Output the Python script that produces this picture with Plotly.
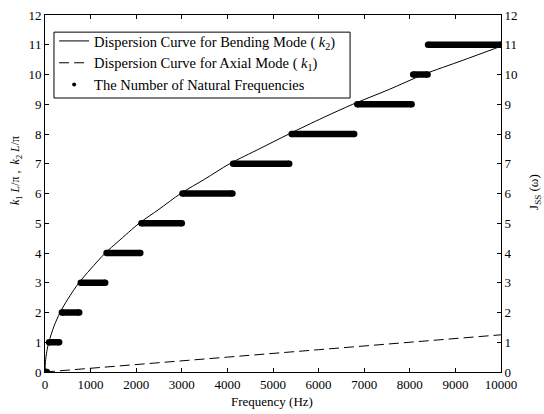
import plotly.graph_objects as go

# Bending mode dispersion curve (k2 L/pi)
bend_f = [0, 10, 40, 83, 200, 330, 500, 744, 1000, 1322, 1600, 2066, 2500, 2975,
          3500, 4050, 4700, 5350, 6100, 6750, 7550, 8300, 9150, 10000]
bend_k = [0, 0.35, 0.69, 1.0, 1.55, 2.0, 2.45, 3.0, 3.46, 4.0, 4.38, 5.0, 5.47, 6.0,
          6.48, 7.0, 7.5, 8.0, 8.55, 9.0, 9.5, 10.0, 10.47, 10.95]

# Axial mode dispersion curve (k1 L/pi)
axial_f = [0, 2000, 4000, 6000, 8000, 10000]
axial_k = [0, 0.26, 0.5, 0.75, 1.0, 1.25]

# Number of natural frequencies: level, start freq, end freq
count_level = [0, 1, 2, 3, 4, 5, 6, 7, 8, 9, 10, 11]
count_start = [0, 90, 370, 785, 1350, 2115, 3015, 4125, 5410, 6850, 8075, 8400]
count_end = [40, 310, 750, 1320, 2090, 3000, 4110, 5355, 6780, 8040, 8390, 10000]

x_ticks = [0, 1000, 2000, 3000, 4000, 5000, 6000, 7000, 8000, 9000, 10000]
x_labels = [str(v) for v in x_ticks]
y_ticks = list(range(0, 13))

FONT = "Liberation Serif"

fig = go.Figure()

fig.add_trace(go.Scatter(
    x=bend_f, y=bend_k, mode="lines", line=dict(color="black", width=1, shape="spline", smoothing=0.8),
    name="Dispersion Curve for Bending Mode ( <i>k</i><sub>2</sub>)"))
fig.add_trace(go.Scatter(
    x=axial_f, y=axial_k, mode="lines", line=dict(color="black", width=1, dash="10px,5px"),
    name="Dispersion Curve for Axial Mode ( <i>k</i><sub>1</sub>)"))

seg_x, seg_y = [], []
for lv, s, e in zip(count_level, count_start, count_end):
    seg_x += [s, e, None]
    seg_y += [lv, lv, None]
fig.add_trace(go.Scatter(
    x=seg_x, y=seg_y, mode="lines+markers", showlegend=False,
    line=dict(color="black", width=6.5), marker=dict(color="black", size=6.5),
    yaxis="y2"))
fig.add_trace(go.Scatter(
    x=[None], y=[None], mode="markers", marker=dict(color="black", size=4),
    name="The Number of Natural Frequencies", yaxis="y2"))

axis_common = dict(showline=True, linecolor="black", linewidth=1, ticks="inside",
                   ticklen=4, tickcolor="black", showgrid=False, zeroline=False,
                   automargin=False,
                   tickfont=dict(family=FONT, size=13, color="black"))

fig.update_layout(
    width=544, height=414,
    margin=dict(l=45, r=43, t=15, b=42),
    paper_bgcolor="white", plot_bgcolor="white",
    font=dict(family=FONT, size=13, color="black"),
    xaxis=dict(range=[0, 10000], tickvals=x_ticks, ticktext=x_labels, mirror="ticks",
               **axis_common),
    yaxis=dict(range=[0, 12], tickvals=y_ticks, mirror=True, **axis_common),
    yaxis2=dict(range=[0, 12], tickvals=y_ticks, overlaying="y", side="right",
                **axis_common),
    legend=dict(x=0.02, y=0.972, xanchor="left", yanchor="top",
                borderwidth=0, bgcolor="rgba(0,0,0,0)",
                itemwidth=30,
                font=dict(family=FONT, size=14.5, color="black")),
    showlegend=True,
    shapes=[
        dict(type="rect", xref="paper", yref="paper", x0=0.0197, x1=0.669,
             y0=0.7675, y1=0.952, line=dict(color="black", width=1),
             fillcolor="white", layer="below"),
    ],
    annotations=[
        dict(text="Frequency (Hz)", xref="paper", yref="paper", x=0.498, y=-0.084,
             xanchor="center", yanchor="middle", showarrow=False,
             font=dict(family=FONT, size=13)),
        dict(text="<i>k</i><sub>1</sub> <i>L</i>/π ,  <i>k</i><sub>2</sub> <i>L</i>/π",
             xref="paper", yref="paper", x=-0.062, y=0.565, textangle=-90,
             xanchor="center", yanchor="middle", showarrow=False,
             font=dict(family=FONT, size=12)),
        dict(text="J<sub>SS</sub> (ω)", xref="paper", yref="paper", x=1.075, y=0.505,
             textangle=-90, xanchor="center", yanchor="middle", showarrow=False,
             font=dict(family=FONT, size=13)),
    ],
)

fig.write_html("out.html", config={"displayModeBar": False},
               post_script="document.body.style.margin='0';")
